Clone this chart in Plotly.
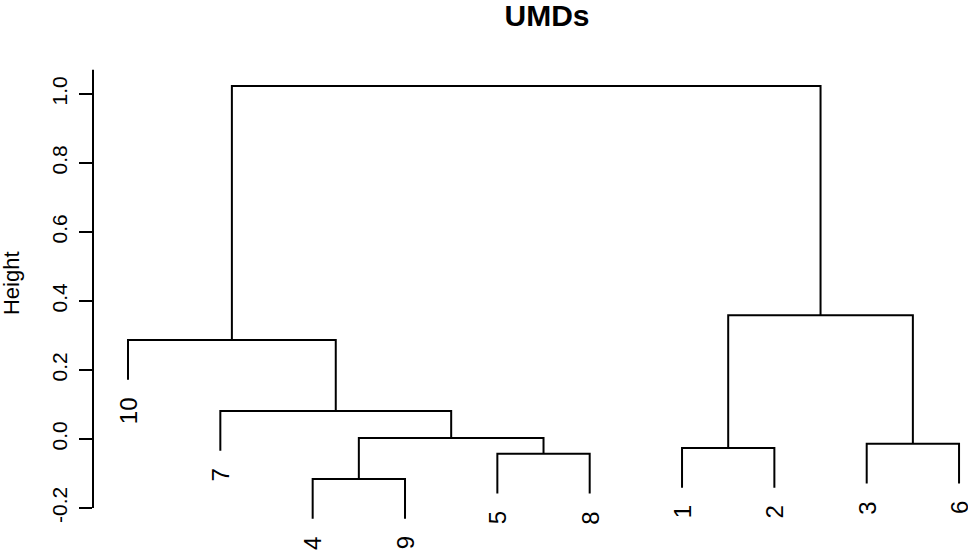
import plotly.graph_objects as go

# ---- data (R hclust-style) ----
leaf_labels = ["1", "2", "3", "4", "5", "6", "7", "8", "9", "10"]
# negative = leaf number, positive = earlier merge step (1-based)
merge_left = [-4, -5, -3, -1, 1, -7, -10, 4, 7]
merge_right = [-9, -8, -6, -2, 2, 5, 6, 3, 8]
merge_height = [-0.116, -0.043, -0.014, -0.026, 0.003, 0.081, 0.287, 0.359, 1.023]
leaf_order = [10, 7, 4, 9, 5, 8, 1, 2, 3, 6]
hang = 0.115
tick_vals = [-0.2, 0.0, 0.2, 0.4, 0.6, 0.8, 1.0]
tick_text = ["-0.2", "0.0", "0.2", "0.4", "0.6", "0.8", "1.0"]
title_text = "UMDs"
ylabel = "Height"

# ---- build dendrogram geometry ----
leaf_x = {leaf: i + 1 for i, leaf in enumerate(leaf_order)}
node_x = {}
xs, ys = [], []
leaf_bottom = {}


def child_pos(c, parent_h):
    if c < 0:
        leaf = -c
        yb = parent_h - hang
        leaf_bottom[leaf] = yb
        return leaf_x[leaf], yb
    return node_x[c], merge_height[c - 1]


for k in range(len(merge_height)):
    h = merge_height[k]
    xl, yl = child_pos(merge_left[k], h)
    xr, yr = child_pos(merge_right[k], h)
    xs += [xl, xl, xr, xr, None]
    ys += [yl, h, h, yr, None]
    node_x[k + 1] = (xl + xr) / 2

fig = go.Figure()
fig.add_trace(go.Scatter(x=xs, y=ys, mode="lines",
                         line=dict(color="black", width=2),
                         hoverinfo="skip", showlegend=False))

FONT = "Liberation Sans, Arial, sans-serif"
for leaf in leaf_order:
    fig.add_annotation(x=leaf_x[leaf], y=leaf_bottom[leaf], xref="x", yref="y",
                       text=leaf_labels[leaf - 1], textangle=-90, showarrow=False,
                       xanchor="center", yanchor="top", yshift=-16,
                       font=dict(family=FONT, size=24, color="black"))

# y axis line (extends slightly above top tick as in reference)
fig.add_shape(type="line", xref="paper", yref="y", x0=0, x1=0, y0=-0.2, y1=1.07,
              line=dict(color="black", width=2))

fig.add_annotation(xref="paper", yref="y", x=(11 - 93) / 875, y=0.452,
                   text=ylabel, textangle=-90, showarrow=False,
                   xanchor="center", yanchor="middle",
                   font=dict(family=FONT, size=22, color="black"))

fig.update_layout(
    width=968, height=552,
    margin=dict(l=93, r=0, t=40, b=0),
    paper_bgcolor="white", plot_bgcolor="white",
    title=dict(text=f"<b>{title_text}</b>", x=547 / 968, xref="container",
               xanchor="center", y=1 - 15 / 552, yref="container", yanchor="middle",
               font=dict(family=FONT, size=30, color="black")),
    xaxis=dict(range=[0.621, 10.097], visible=False, fixedrange=True),
    yaxis=dict(range=[-0.3275, 1.1565], showgrid=False, zeroline=False,
               showline=False, tickmode="array", tickvals=tick_vals,
               ticktext=tick_text, ticks="outside", ticklen=13, tickwidth=2,
               tickcolor="black", tickangle=-90, ticklabelstandoff=4,
               tickfont=dict(family=FONT, size=21, color="black")),
)

fig.write_html("out.html")
